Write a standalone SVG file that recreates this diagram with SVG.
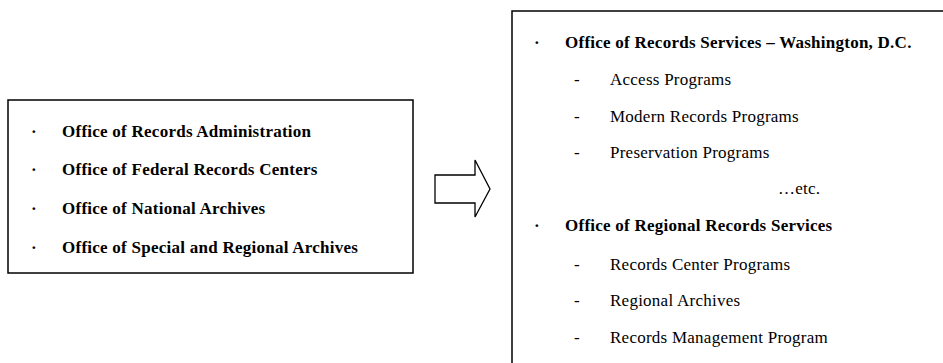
<svg xmlns="http://www.w3.org/2000/svg" width="943" height="363" viewBox="0 0 943 363">
<style>
.box{fill:#fff;stroke:#000;stroke-width:1.5}
.t{font-family:"Liberation Serif","Times New Roman",serif;font-size:17px;letter-spacing:0.25px;fill:#000}
.b{font-weight:bold}
</style>
<rect width="943" height="363" fill="#fff"/>
<g id="old-structure">
<rect class="box" x="8" y="100" width="405" height="173"/>
<g class="t b">
<text x="31" y="137">·</text><text x="62" y="137">Office of Records Administration</text>
<text x="31" y="175">·</text><text x="62" y="175">Office of Federal Records Centers</text>
<text x="31" y="214">·</text><text x="62" y="214">Office of National Archives</text>
<text x="31" y="253">·</text><text x="62" y="253">Office of Special and Regional Archives</text>
</g>
</g>
<g id="connectors">
<path d="M435,175 H475 V160 L490,189 L475,217 V203 H435 Z" fill="#fff" stroke="#000" stroke-width="1.3" stroke-linejoin="miter"/>
</g>
<g id="new-structure">
<path class="box" d="M945,11 H512 V365"/>
<g class="t">
<text class="b" x="534" y="48">·</text><text class="b" x="565" y="48">Office of Records Services – Washington, D.C.</text>
<text x="574" y="85">-</text><text x="610" y="85">Access Programs</text>
<text x="574" y="122">-</text><text x="610" y="122">Modern Records Programs</text>
<text x="574" y="158">-</text><text x="610" y="158">Preservation Programs</text>
<text x="778" y="194">…etc.</text>
<text class="b" x="534" y="231">·</text><text class="b" x="565" y="231">Office of Regional Records Services</text>
<text x="574" y="270">-</text><text x="610" y="270">Records Center Programs</text>
<text x="574" y="306">-</text><text x="610" y="306">Regional Archives</text>
<text x="574" y="343">-</text><text x="610" y="343">Records Management Program</text>
</g>
</g>
</svg>
